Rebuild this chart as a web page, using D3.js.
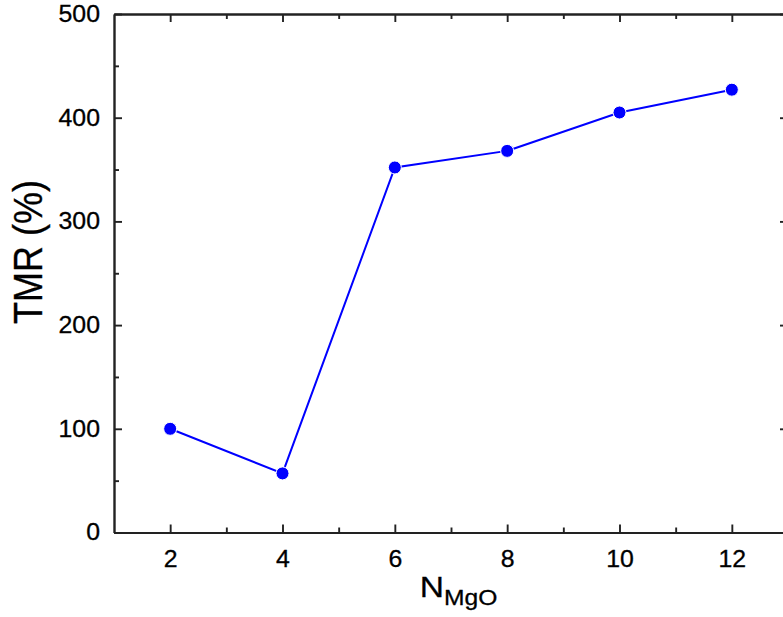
<!DOCTYPE html>
<html>
<head>
<meta charset="utf-8" />
<style>
    body {
        margin: 0;
        background: #fff;
        overflow: hidden;
    }

    svg {
        font-family: "Liberation Sans", Arial, sans-serif;
        display: block;
    }

    .axis path,
    .axis line {
        fill: none;
        stroke: #222;
        stroke-width: 1.9;
    }

    .axis text,
    .title {
        fill: #000;
        stroke: #000;
        stroke-width: 0.3;
        font-family: "Liberation Sans", Arial, sans-serif;
    }

    .axis text {
        font-size: 23px;
    }
</style>
</head>

<body>
<svg width="783" height="617"></svg>
<script src="https://cdn.jsdelivr.net/npm/d3@7"></script>
<script>

    // data
    var nMgO = [2, 4, 6, 8, 10, 12];
    var tmr = [100, 57, 352, 368, 405, 427];
    var xTicks = [2, 4, 6, 8, 10, 12];
    var xMinor = [3, 5, 7, 9, 11];
    var yTicks = [0, 100, 200, 300, 400, 500];
    var yMinor = [50, 150, 250, 350, 450];

    var svg = d3.select("svg");
    // the source picture is stretched sideways a bit
    var tickStretch = 1.08, titleStretch = 1.12;

    var margin = { top: 14, left: 114 };
    var width = 674, height = 518.5;

    var x = d3.scaleLinear().domain([1, 13]).range([0, width]);
    var y = d3.scaleLinear().domain([0, 500]).range([height, 0]);

    var g = svg.append("g")
        .attr("transform", "translate(" + margin.left + "," + margin.top + ")");

    // bottom axis
    var xAxis = g.append("g")
        .attr("class", "axis")
        .attr("transform", "translate(0," + height + ")")
        .call(d3.axisBottom(x).tickValues(xTicks).tickSize(-8).tickSizeOuter(0).tickPadding(18));
    xAxis.selectAll("text").attr("transform", "scale(" + tickStretch + ",1)");

    g.append("g")
        .attr("class", "axis")
        .attr("transform", "translate(0," + height + ")")
        .call(d3.axisBottom(x).tickValues(xMinor).tickSize(-5).tickSizeOuter(0).tickFormat(""));

    // top axis, no labels
    g.append("g")
        .attr("class", "axis")
        .call(d3.axisTop(x).tickValues(xTicks).tickSize(-8).tickSizeOuter(0).tickFormat(""));
    g.append("g")
        .attr("class", "axis")
        .call(d3.axisTop(x).tickValues(xMinor).tickSize(-5).tickSizeOuter(0).tickFormat(""));

    // left axis
    var yAxis = g.append("g")
        .attr("class", "axis")
        .call(d3.axisLeft(y).tickValues(yTicks).tickSize(-8).tickSizeOuter(0).tickPadding(13));
    yAxis.selectAll("text").attr("transform", "scale(" + tickStretch + ",1)");

    g.append("g")
        .attr("class", "axis")
        .call(d3.axisLeft(y).tickValues(yMinor).tickSize(-5).tickSizeOuter(0).tickFormat(""));

    // right axis (falls mostly outside the window)
    g.append("g")
        .attr("class", "axis")
        .attr("transform", "translate(" + width + ",0)")
        .call(d3.axisRight(y).tickValues(yTicks).tickSize(-8).tickSizeOuter(0).tickFormat(""));
    g.append("g")
        .attr("class", "axis")
        .attr("transform", "translate(" + width + ",0)")
        .call(d3.axisRight(y).tickValues(yMinor).tickSize(-5).tickSizeOuter(0).tickFormat(""));

    var points = nMgO.map(function (n, i) { return { n: n, v: tmr[i] }; });

    var line = d3.line()
        .x(function (d) { return x(d.n); })
        .y(function (d) { return y(d.v); });

    g.append("path")
        .datum(points)
        .attr("d", line)
        .attr("fill", "none")
        .attr("stroke", "#0000ff")
        .attr("stroke-width", 2);

    g.selectAll(".dot")
        .data(points)
        .enter().append("circle")
        .attr("class", "dot")
        .attr("cx", function (d) { return x(d.n); })
        .attr("cy", function (d) { return y(d.v); })
        .attr("r", 6.5)
        .attr("fill", "#0000ff")
        .attr("stroke", "#fff")
        .attr("stroke-width", 1);

    // y axis title
    svg.append("text")
        .attr("class", "title")
        .attr("transform", "translate(41.5,252) scale(" + titleStretch + ",1) rotate(-90)")
        .attr("text-anchor", "middle")
        .style("font-size", "36px")
        .text("TMR (%)");

    // x axis title with subscript
    var xt = svg.append("text")
        .attr("class", "title")
        .attr("transform", "translate(458.5,596.5) scale(" + titleStretch + ",1)")
        .attr("text-anchor", "middle")
        .style("font-size", "30px");
    xt.append("tspan").text("N");
    xt.append("tspan")
        .attr("dy", 8.5)
        .style("font-size", "22px")
        .text("MgO");

</script>
</body>
</html>
